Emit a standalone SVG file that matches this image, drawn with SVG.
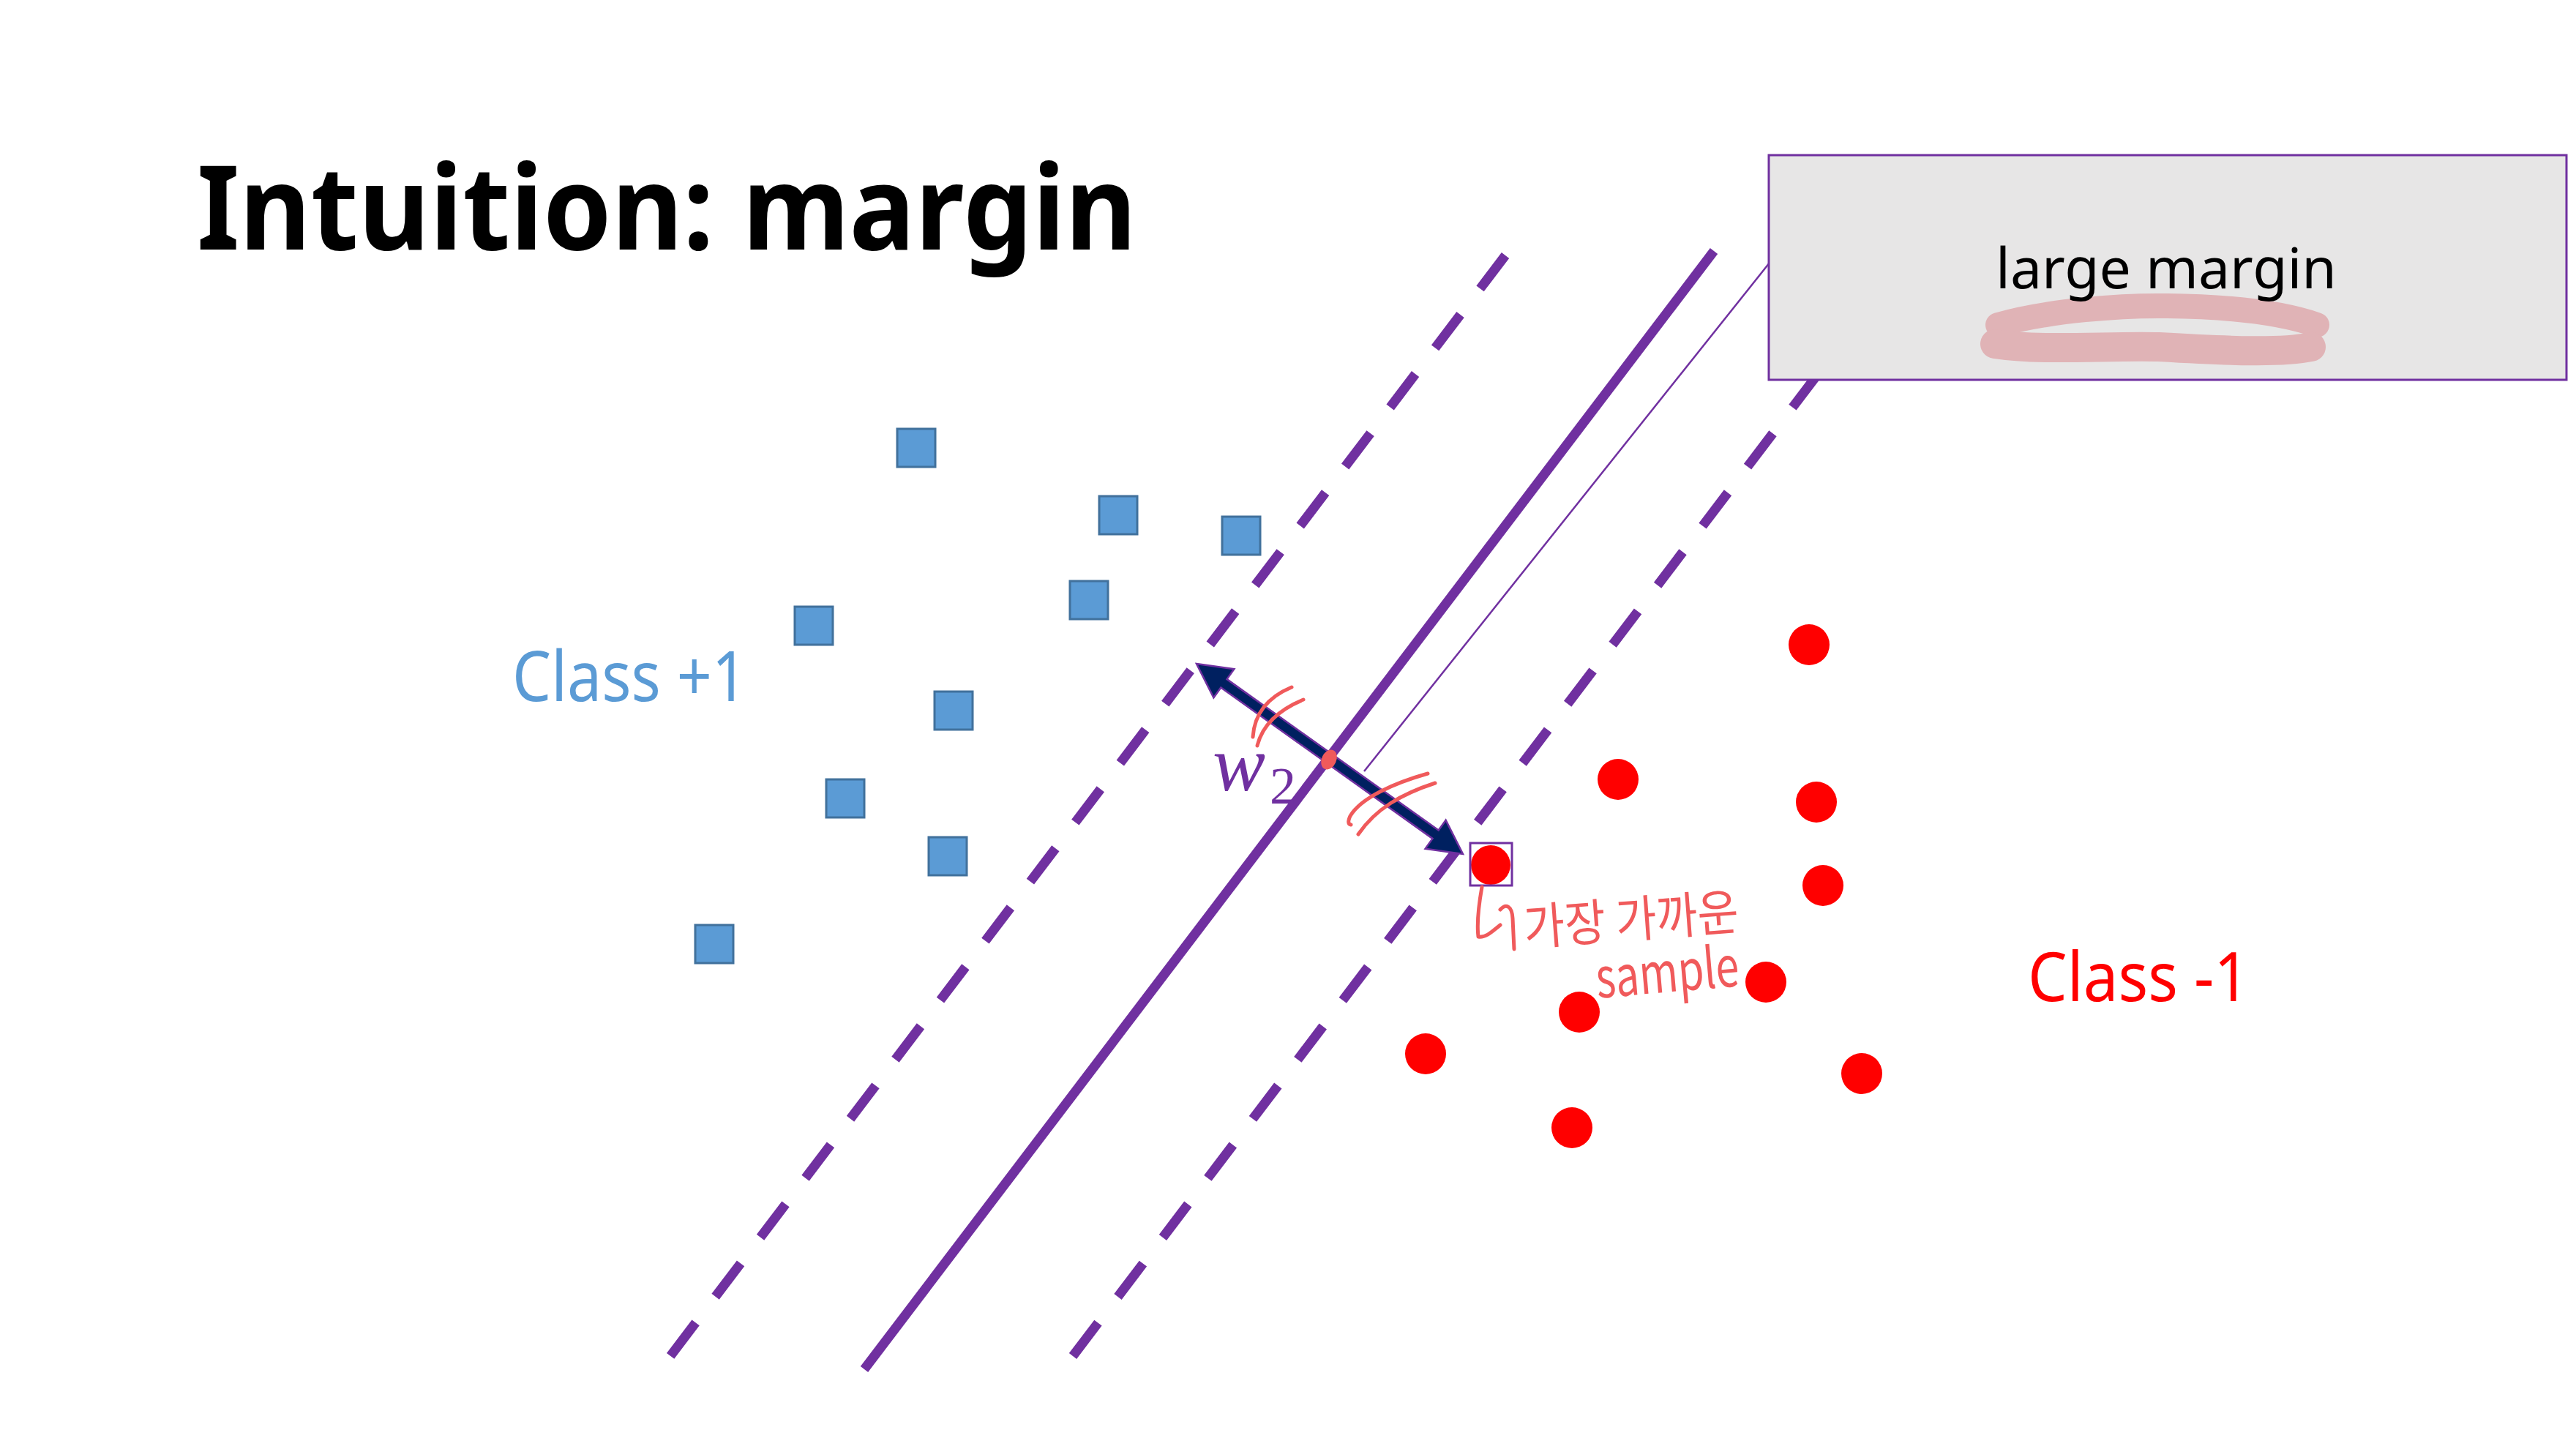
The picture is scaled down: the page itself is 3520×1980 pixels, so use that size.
<svg xmlns="http://www.w3.org/2000/svg" width="3520" height="1980" viewBox="0 0 3520 1980">
  <style>
    .hp { stroke:#7030A0; stroke-width:13; fill:none; stroke-linecap:butt; }
    .dash { stroke-dasharray:57 44.7; }
    .sq { fill:#5B9BD5; stroke:#41719C; stroke-width:3; }
    .pt { fill:#FF0000; }
    .ink { stroke:#F05A5B; stroke-width:5; fill:none; stroke-linecap:round; stroke-linejoin:round; }
    .inktext { fill:#F05A5B; font-family:"Noto Sans CJK KR","Noto Sans",sans-serif; }
    .lbl { font-family:"Noto Sans","Open Sans",sans-serif; }
  </style>
  <rect width="3520" height="1980" fill="#FFFFFF"/>

  <g id="title">
    <text class="lbl" x="269" y="341" font-size="160" font-weight="bold" fill="#000000" textLength="1284" lengthAdjust="spacingAndGlyphs">Intuition: margin</text>
  </g>

  <g id="connectors">
    <line id="margin-plus" class="hp dash" x1="2057" y1="349" x2="916" y2="1853"/>
    <line id="hyperplane" class="hp" x1="2342" y1="343" x2="1181" y2="1871"/>
    <line id="margin-minus" class="hp dash" x1="1466" y1="1853" x2="2607" y2="349"/>
    <line id="callout-line" x1="1864" y1="1054" x2="2418" y2="359" stroke="#7030A0" stroke-width="2.5"/>
    <polygon id="w-arrow" points="1635,907 1686.4,914.3 1676.5,928.1 1965.7,1134.5 1975.6,1120.7 1999,1167 1947.6,1159.7 1957.5,1145.9 1668.3,939.5 1658.4,953.3" fill="#002060" stroke="#7030A0" stroke-width="2.5" stroke-linejoin="miter"/>
  </g>

  <g id="class-plus">
    <rect id="p1" class="sq" x="1226" y="586" width="52" height="52"/>
    <rect id="p2" class="sq" x="1502" y="678" width="52" height="52"/>
    <rect id="p3" class="sq" x="1670" y="706" width="52" height="52"/>
    <rect id="p4" class="sq" x="1462" y="794" width="52" height="52"/>
    <rect id="p5" class="sq" x="1086" y="829" width="52" height="52"/>
    <rect id="p6" class="sq" x="1277" y="945" width="52" height="52"/>
    <rect id="p7" class="sq" x="1129" y="1065" width="52" height="52"/>
    <rect id="p8" class="sq" x="1269" y="1144" width="52" height="52"/>
    <rect id="p9" class="sq" x="950" y="1264" width="52" height="52"/>
  </g>

  <g id="class-minus">
    <circle id="m1" class="pt" cx="2472" cy="881" r="28"/>
    <circle id="m2" class="pt" cx="2211" cy="1065" r="28"/>
    <circle id="m3" class="pt" cx="2482" cy="1096" r="28"/>
    <circle id="m4" class="pt" cx="2037" cy="1182" r="27"/>
    <circle id="m5" class="pt" cx="2491" cy="1210" r="28"/>
    <circle id="m6" class="pt" cx="2413" cy="1342" r="28"/>
    <circle id="m7" class="pt" cx="2158" cy="1383" r="28"/>
    <circle id="m8" class="pt" cx="1948" cy="1440" r="28"/>
    <circle id="m9" class="pt" cx="2544" cy="1467" r="28"/>
    <circle id="m10" class="pt" cx="2148" cy="1541" r="28"/>
  </g>

  <g id="closest-sample-box">
    <rect x="2009" y="1152" width="57" height="58" fill="none" stroke="#7030A0" stroke-width="3"/>
  </g>

  <g id="label-class-plus">
    <text class="lbl" x="700" y="958" font-size="95" fill="#5B9BD5" textLength="321" lengthAdjust="spacingAndGlyphs">Class +1</text>
  </g>
  <g id="label-class-minus">
    <text class="lbl" x="2771" y="1368" font-size="93" fill="#FF0000" textLength="303" lengthAdjust="spacingAndGlyphs">Class -1</text>
  </g>

  <g id="label-w2">
    <text x="1657" y="1080" font-family="'Liberation Serif','DejaVu Serif',serif" font-style="italic" font-size="108" fill="#7030A0">w</text>
    <text x="1735" y="1098" font-family="'Liberation Serif','DejaVu Serif',serif" font-size="72" fill="#7030A0">2</text>
  </g>

  <g id="callout">
    <rect x="2417" y="212" width="1090" height="307" fill="#E7E6E6" stroke="#7030A0" stroke-width="3"/>
    <path d="M2730,444 C2800,424 2900,417 2962,418 C3050,419 3120,428 3166,444" fill="none" stroke="#E0B3B6" stroke-width="34" stroke-linecap="round"/>
    <path d="M2726,470 C2790,480 2880,472 2950,474 C3050,480 3120,482 3158,474" fill="none" stroke="#E0B3B6" stroke-width="40" stroke-linecap="round"/>
    <text class="lbl" x="2960" y="394" font-size="77" fill="#000000" text-anchor="middle">large margin</text>
  </g>

  <g id="ink-annotations">
    <ellipse cx="1816" cy="1038" rx="10" ry="14" transform="rotate(25 1816 1038)" fill="#F05A5B"/>
    <path class="ink" d="M1765,939 Q1715,960 1712,1007"/>
    <path class="ink" d="M1781,956 Q1728,978 1718,1019"/>
    <path class="ink" d="M1951,1057 C1905,1070 1860,1090 1845,1115 Q1840,1126 1846,1127"/>
    <path class="ink" d="M1961,1070 C1915,1085 1880,1105 1856,1140"/>
    <path class="ink" d="M2025,1212 C2020,1240 2018,1262 2020,1280 C2030,1282 2040,1272 2050,1264 M2050,1243 C2058,1234 2066,1238 2067,1255 L2069,1297"/>
    <text class="inktext" x="2084" y="1292" font-size="68" textLength="294" lengthAdjust="spacingAndGlyphs" transform="rotate(-4.3 2084 1292)">가장 가까운</text>
    <text class="inktext" x="2183" y="1364" font-size="76" textLength="196" lengthAdjust="spacingAndGlyphs" transform="rotate(-5 2183 1364)">sample</text>
  </g>
</svg>
